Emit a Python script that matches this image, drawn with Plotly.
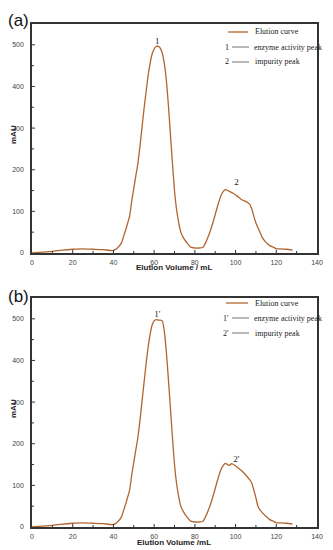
import plotly.graph_objects as go

# ---- data ----
vol_a = [0, 5, 10, 15, 20, 25, 30, 35, 40, 42, 44, 45, 46, 47, 48, 49, 50, 51, 52, 53, 54, 55, 56, 57, 58, 59, 60, 61, 62, 63,
         64, 65, 66, 67, 68, 69, 70, 71, 72, 73, 74, 76, 78, 80, 82, 84, 85, 87, 89, 91, 93, 95, 97, 99, 101, 103, 105, 107,
         108, 109, 110, 112, 113, 115, 117, 119, 120, 122, 125, 128]
mau_a = [0, 2, 4, 7, 9, 10, 9, 8, 6, 12, 25, 40, 55, 72, 90, 125, 155, 185, 215, 255, 300, 345, 385, 425, 455, 478, 490, 496, 497, 492,
         480, 455, 415, 355, 285, 215, 150, 105, 75, 52, 40, 25, 14, 12, 12, 14, 22, 45, 75, 110, 140, 152, 148, 143, 136, 128, 124, 117,
         105, 88, 72, 50, 38, 25, 17, 13, 10, 10, 9, 7]

vol_b = [0, 5, 10, 15, 20, 25, 30, 35, 40, 42, 44, 45, 46, 47, 48, 49, 50, 51, 52, 53, 54, 55, 56, 57, 58, 59, 60, 61, 62, 63,
         64, 65, 66, 67, 68, 69, 70, 71, 72, 73, 74, 76, 78, 80, 82, 84, 85, 87, 89, 91, 93, 95, 96, 97, 98, 99, 101, 103, 105, 107,
         108, 109, 110, 111, 112, 113, 115, 117, 119, 120, 122, 125, 128]
mau_b = [0, 2, 4, 7, 9, 10, 9, 8, 6, 12, 25, 40, 55, 72, 90, 125, 155, 185, 215, 255, 300, 345, 390, 430, 462, 485, 495, 498, 497, 497,
         495, 470, 420, 355, 285, 215, 150, 105, 75, 52, 40, 25, 14, 12, 12, 14, 22, 45, 75, 110, 140, 153, 150, 148, 152, 150, 143, 135, 125, 113,
         105, 88, 70, 50, 41, 35, 25, 17, 13, 10, 10, 9, 7]

peaks_a = {"x": [61.5, 100.4], "y": [507, 168], "text": ["1", "2"]}
peaks_b = {"x": [61.5, 100.4], "y": [510, 162], "text": ["1'", "2'"]}

legend_a = ["Elution curve", "1", "enzyme activity peak", "2", "impurity peak"]
legend_b = ["Elution curve", "1'", "enzyme activity peak", "2'", "impurity peak"]

xtitle_a = "Elution Volume / mL"
xtitle_b = "Elution Volume /mL"
ytitle = "mAU"

x_range = [0, 140]
y_range = [0, 550]
x_major, x_minor = 20, 10
y_major, y_minor = 100, 50

LINE = "#B0652F"
FRAME = "#333333"
SERIF = "Liberation Serif"
SANS = "Liberation Sans"

# page body has an 8px margin: figure is drawn at (8, 8) in the window
OFF = 8
W, H = 333 - OFF, 550 - OFF

def fx(xp):
    return (xp - OFF) / W

def fy(yp):
    return 1 - (yp - OFF) / H

PLOT_L, PLOT_R = 32, 317
PANELS = [(24, 253), (298, 527)]

fig = go.Figure()
fig.add_trace(go.Scatter(x=vol_a, y=mau_a, xaxis="x", yaxis="y", mode="lines",
                         line=dict(color=LINE, width=1.3, shape="spline", smoothing=0.6),
                         showlegend=False, hoverinfo="skip"))
fig.add_trace(go.Scatter(x=vol_b, y=mau_b, xaxis="x2", yaxis="y2", mode="lines",
                         line=dict(color=LINE, width=1.3, shape="spline", smoothing=0.6),
                         showlegend=False, hoverinfo="skip"))
for xa, ya, pk in (("x", "y", peaks_a), ("x2", "y2", peaks_b)):
    fig.add_trace(go.Scatter(x=pk["x"], y=pk["y"], xaxis=xa, yaxis=ya, mode="text", text=pk["text"],
                             textfont=dict(family=SERIF, size=9, color="#222"),
                             showlegend=False, hoverinfo="skip"))

def xaxis(anchor):
    return dict(domain=[fx(PLOT_L), fx(PLOT_R)], anchor=anchor, range=x_range, dtick=x_major, tick0=0,
                showline=True, linecolor=FRAME, linewidth=1.5, mirror=True,
                ticks="", showgrid=False, zeroline=False, automargin=False,
                ticklabelstandoff=2, tickfont=dict(family=SANS, size=7, color="#444"))

def yaxis(anchor, top, bottom):
    return dict(domain=[fy(bottom), fy(top)], anchor=anchor, range=y_range, dtick=y_major, tick0=0,
                showline=True, linecolor=FRAME, linewidth=1.5, mirror=True,
                ticks="", showgrid=False, zeroline=False, automargin=False,
                ticklabelstandoff=5, tickfont=dict(family=SANS, size=7, color="#444"))

fig.update_layout(
    width=W, height=H, margin=dict(l=0, r=0, t=0, b=0, autoexpand=False),
    paper_bgcolor="white", plot_bgcolor="white",
    xaxis=xaxis("y"), yaxis=yaxis("x", *PANELS[0]),
    xaxis2=xaxis("y2"), yaxis2=yaxis("x2", *PANELS[1]),
)

anns = []
shapes = []

def add_line(xa, xb, ya, yb, color, width):
    shapes.append(dict(type="line", xref="paper", yref="paper", x0=fx(xa), x1=fx(xb), y0=fy(ya), y1=fy(yb),
                       line=dict(color=color, width=width), layer="above"))

# inward ticks placed through the axes
for xa, ya in (("x", "y"), ("x2", "y2")):
    v = x_range[0] + x_minor
    while v < x_range[1]:
        ln = 3 if v % x_major == 0 else 2
        shapes.append(dict(type="line", xref=xa, yref=f"{ya} domain", ysizemode="pixel", yanchor=0,
                           x0=v, x1=v, y0=0, y1=ln, line=dict(color=FRAME, width=1)))
        v += x_minor
    v = y_range[0] + y_minor
    while v < y_range[1]:
        ln = 3 if v % y_major == 0 else 2
        shapes.append(dict(type="line", xref=f"{xa} domain", yref=ya, xsizemode="pixel", xanchor=0,
                           x0=0, x1=ln, y0=v, y1=v, line=dict(color=FRAME, width=1)))
        v += y_minor

def add_text(xp, yp, text, size=8, family=SERIF, bold=False, anchor="left", angle=0, color="#222"):
    t = f"<b>{text}</b>" if bold else text
    anns.append(dict(x=fx(xp), y=fy(yp), xref="paper", yref="paper", text=t, showarrow=False, xanchor=anchor,
                     yanchor="middle", textangle=angle, font=dict(family=family, size=size, color=color)))

add_text(18, 20, "(a)", size=17, family=SANS, color="#111", anchor="center")
add_text(18, 296, "(b)", size=17, family=SANS, color="#111", anchor="center")

add_text(174, 268, xtitle_a, size=8, family=SANS, bold=True, anchor="center")
add_text(174, 542, xtitle_b, size=8, family=SANS, bold=True, anchor="center")
add_text(13, 135, ytitle, size=8, family=SANS, bold=True, anchor="center", angle=-90)
add_text(13, 409, ytitle, size=8, family=SANS, bold=True, anchor="center", angle=-90)

for labels, y0, xl in ((legend_a, 32, 228), (legend_b, 303, 226)):
    add_line(xl, 248, y0, y0, LINE, 1.3)
    add_text(253, y0, labels[0])
    add_text(231, y0 + 15, labels[1], anchor="right")
    add_line(232, 249, y0 + 15, y0 + 15, "#333", 0.7)
    add_text(252, y0 + 15, labels[2])
    add_text(231, y0 + 30, labels[3], anchor="right")
    add_line(232, 249, y0 + 30, y0 + 30, "#333", 0.7)
    add_text(253, y0 + 30, labels[4])

fig.update_layout(annotations=anns, shapes=shapes)
fig.write_html("out.html")
